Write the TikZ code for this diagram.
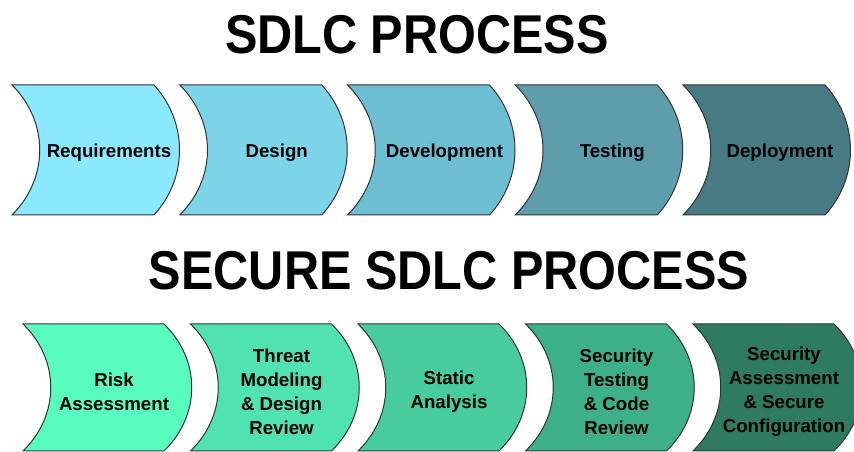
\documentclass[tikz,border=0pt]{standalone}
\usepackage{fontspec}
\setmainfont{Liberation Sans}
\newfontfamily\headfont[FakeStretch=0.89]{Liberation Sans}

\definecolor{reqcol}{HTML}{8AE8FF}
\definecolor{descol}{HTML}{7CD4E8}
\definecolor{devcol}{HTML}{6DBED2}
\definecolor{tstcol}{HTML}{5E9DAB}
\definecolor{depcol}{HTML}{477A83}
\definecolor{riskcol}{HTML}{58FCBE}
\definecolor{thrcol}{HTML}{50E2B0}
\definecolor{stacol}{HTML}{48CC9E}
\definecolor{seccol}{HTML}{3DB089}
\definecolor{cfgcol}{HTML}{2F7B61}

\begin{document}
\begin{tikzpicture}[
		x = 0.75pt, y = -0.75pt,
		stage/.style = {draw = black!80, line width = 0.75pt},
		stagetext/.style = {font = \bfseries\fontsize{14}{18}\selectfont, align = center, inner sep = 0pt},
		heading/.style = {font = \headfont\bfseries\fontsize{41}{41}\selectfont, inner sep = 0pt}
	]

	\useasboundingbox (0,0) rectangle (854,452);

	\node[heading] (title) at (417,35) {SDLC PROCESS};
	\node[heading] (subtitle) at (449,271) {SECURE SDLC PROCESS};

	% top row
	\foreach \i/\col/\txt in {0/reqcol/Requirements, 1/descol/Design, 2/devcol/Development, 3/tstcol/Testing, 4/depcol/Deployment} {
		\pgfmathsetmacro\L{12+167.75*\i}
		\pgfmathsetmacro\R{\L+142}
		\path[stage, fill=\col] (\L,85) -- (\R,85)
			.. controls (\R+34,122) and (\R+34,178) .. (\R,215) -- (\L,215)
			.. controls (\L+37,178) and (\L+37,122) .. (\L,85) -- cycle;
		\node[stagetext] (top\i) at (\L+97,153) {\txt};
	}

	% bottom row
	\foreach \i/\col/\txt in {0/riskcol/{Risk\\Assessment}, 1/thrcol/{Threat\\Modeling\\\& Design\\Review}, 2/stacol/{Static\\Analysis}, 3/seccol/{Security\\Testing\\\& Code\\Review}, 4/cfgcol/{Security\\Assessment\\\& Secure\\Configuration}} {
		\pgfmathsetmacro\L{23+167.5*\i}
		\pgfmathsetmacro\R{\L+141}
		\path[stage, fill=\col] (\L,324) -- (\R,324)
			.. controls (\R+37,360) and (\R+37,415) .. (\R,451) -- (\L,451)
			.. controls (\L+37,415) and (\L+37,360) .. (\L,324) -- cycle;
		\node[stagetext] (sec\i) at (\L+91,392) {\txt};
	}
\end{tikzpicture}
\end{document}
